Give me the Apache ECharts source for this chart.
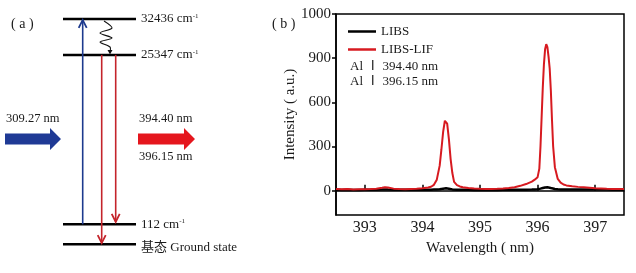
<!DOCTYPE html>
<html>
<head>
<meta charset="utf-8">
<script src="https://cdn.jsdelivr.net/npm/echarts@6.0.0/dist/echarts.min.js"></script>
<style>
    html, body { margin: 0; padding: 0; background: #fff; }
    #main { width: 636px; height: 273px; }
</style>
</head>
<body>
<div id="main"></div>
<script>
// ---------- (a) 能级示意图 (示意坐标：x 为横向位置，row 为能级示意高度) ----------
var levelNames = ['基态 Ground state', '112 cm', '25347 cm', '32436 cm'];
var levelSup = ['', '-1', '-1', '-1'];
var levelRows = [0, 1, 9.47, 11.27];
var levelSpan = [63, 136];

// 细箭头: [x, 起始能级, 终止能级, 颜色序号]
var thinArrows = [
    [82.7, 1, 11.22, 0],     // 309.27 nm 激发
    [101.7, 9.47, 0.06, 1],  // 394.40 nm 荧光
    [115.7, 9.47, 1.12, 1]   // 396.15 nm 荧光
];
// 无辐射弛豫波浪线
var waveX = [104, 112, 100, 112, 100, 110, 110];
var waveRow = [11.165, 10.815, 10.565, 10.315, 10.115, 9.865, 9.62];
// 粗箭头: [起点x, 终点x, row, 颜色序号]
var blockArrows = [
    [5, 61, 5.27, 0],
    [138, 195, 5.27, 1]
];
var blockTextAbove = ['309.27 nm', '394.40 nm'];
var blockTextBelow = ['', '396.15 nm'];

// ---------- (b) 光谱 ----------
var wavelength = [
    392.5, 392.6, 392.7, 392.8, 392.9, 393.0, 393.1, 393.2, 393.3, 393.35,
    393.4, 393.5, 393.6, 393.7, 393.8, 393.9, 394.0, 394.1, 394.15, 394.2,
    394.25, 394.3, 394.33, 394.36, 394.39, 394.41, 394.43, 394.46, 394.49, 394.52,
    394.55, 394.6, 394.65, 394.7, 394.8, 394.9, 395.0, 395.1, 395.2, 395.3,
    395.4, 395.5, 395.6, 395.7, 395.8, 395.9, 395.95, 396.0, 396.03, 396.05,
    396.07, 396.09, 396.11, 396.13, 396.15, 396.17, 396.19, 396.21, 396.23, 396.25,
    396.27, 396.3, 396.35, 396.4, 396.45, 396.5, 396.6, 396.7, 396.8, 396.9,
    397.0, 397.1, 397.2, 397.3, 397.4, 397.5
];
var libsLif = [
    12, 10, 11, 9, 10, 10, 11, 13, 20, 24,
    22, 14, 11, 10, 12, 14, 17, 22, 27, 40,
    75, 170, 280, 400, 475, 485, 455, 350, 215, 120,
    60, 38, 29, 23, 18, 15, 13, 12, 12, 13,
    15, 18, 24, 33, 45, 62, 75, 92, 150, 300,
    500, 700, 860, 960, 995, 975, 910, 830, 680, 480,
    300, 160, 80, 55, 42, 36, 30, 26, 23, 20,
    17, 15, 13, 12, 11, 12
];
var libs = [
    6, 5, 6, 5, 5, 6, 6, 7, 8, 9,
    8, 7, 6, 6, 6, 6, 7, 7, 7, 8,
    9, 10, 12, 14, 16, 16, 15, 13, 11, 9,
    8, 7, 7, 6, 6, 5, 5, 5, 5, 5,
    6, 6, 6, 7, 7, 8, 9, 10, 12, 14,
    16, 18, 20, 22, 23, 23, 22, 20, 18, 16,
    14, 12, 10, 9, 8, 8, 8, 8, 8, 8,
    8, 8, 8, 7, 7, 7
];
var xTickValues = [393, 394, 395, 396, 397];
var yTickValues = [0, 300, 600, 900, 1200];
var yTickLabels = ['0', '300', '600', '900', '1000'];
var lineNotes = ['Al Ⅰ 394.40 nm', 'Al Ⅰ 396.15 nm'];

var SERIF = '"Liberation Serif", "Times New Roman", "Noto Sans CJK SC", serif';
var thinColors = ['#1d3a8e', '#c4242b'];
var blockColors = ['#1f3a95', '#e5161d'];

function pair(xs, ys) {
    var out = [];
    for (var i = 0; i < xs.length; i++) {
        out.push([xs[i], ys[i]]);
    }
    return out;
}

function renderLevel(params, api) {
    var idx = params.dataIndex;
    var p1 = api.coord([api.value(0), api.value(1)]);
    var p2 = api.coord([api.value(2), api.value(1)]);
    var txt = levelSup[idx] ? '{n|' + levelNames[idx] + '}{s|' + levelSup[idx] + '}' : '{n|' + levelNames[idx] + '}';
    return {
        type: 'group',
        children: [{
            type: 'line',
            shape: {x1: p1[0], y1: p1[1], x2: p2[0], y2: p2[1]},
            style: {stroke: '#000', lineWidth: 2.5}
        }, {
            type: 'text',
            style: {
                text: txt,
                x: p2[0] + 5,
                y: p2[1] + (idx === 0 ? 3 : 0),
                verticalAlign: 'middle',
                fill: '#1a1a1a',
                rich: {
                    n: {fontSize: 13, fontFamily: SERIF, fill: '#1a1a1a'},
                    s: {fontSize: 7, fontFamily: SERIF, fill: '#1a1a1a', verticalAlign: 'top'}
                }
            }
        }]
    };
}

function renderThinArrow(params, api) {
    var x = api.value(0);
    var p1 = api.coord([x, api.value(1)]);
    var p2 = api.coord([x, api.value(2)]);
    var color = thinColors[api.value(3)];
    var dir = p2[1] > p1[1] ? 1 : -1;
    return {
        type: 'group',
        children: [{
            type: 'line',
            shape: {x1: p1[0], y1: p1[1], x2: p2[0], y2: p2[1]},
            style: {stroke: color, lineWidth: 1.6}
        }, {
            type: 'polyline',
            shape: {points: [[p2[0] - 4, p2[1] - dir * 8], [p2[0], p2[1]], [p2[0] + 4, p2[1] - dir * 8]]},
            style: {stroke: color, lineWidth: 1.8, fill: null}
        }]
    };
}

function renderWave(params, api) {
    var pts = [];
    for (var i = 0; i < waveX.length; i++) {
        pts.push(api.coord([waveX[i], waveRow[i]]));
    }
    var tip = api.coord([110, levelRows[2]]);
    return {
        type: 'group',
        children: [{
            type: 'polyline',
            shape: {points: pts, smooth: 0.3},
            style: {stroke: '#111', lineWidth: 1.1, fill: null}
        }, {
            type: 'polygon',
            shape: {points: [[tip[0] - 2.5, tip[1] - 5], [tip[0] + 2.5, tip[1] - 5], [tip[0], tip[1] - 0.5]]},
            style: {fill: '#111'}
        }]
    };
}

function renderBlock(params, api) {
    var idx = params.dataIndex;
    var p0 = api.coord([api.value(0), api.value(2)]);
    var p1 = api.coord([api.value(1), api.value(2)]);
    var y = p0[1], x0 = p0[0], x1 = p1[0];
    var bh = 5.5, hh = 11, hl = 11;
    var children = [{
        type: 'polygon',
        shape: {points: [
            [x0, y - bh], [x1 - hl, y - bh], [x1 - hl, y - hh], [x1, y],
            [x1 - hl, y + hh], [x1 - hl, y + bh], [x0, y + bh]
        ]},
        style: {fill: blockColors[api.value(3)]}
    }];
    if (blockTextAbove[idx]) {
        children.push({
            type: 'text',
            style: {text: blockTextAbove[idx], x: x0 + 1, y: y - 20, verticalAlign: 'middle',
                fontSize: 12.5, fontFamily: SERIF, fill: '#1a1a1a'}
        });
    }
    if (blockTextBelow[idx]) {
        children.push({
            type: 'text',
            style: {text: blockTextBelow[idx], x: x0 + 1, y: y + 18, verticalAlign: 'middle',
                fontSize: 12.5, fontFamily: SERIF, fill: '#1a1a1a'}
        });
    }
    return {type: 'group', children: children};
}

var myChart = echarts.init(document.getElementById('main'), null, {renderer: 'canvas'});
var option = {
    animation: false,
    backgroundColor: '#fff',
    title: [
        {text: '( a )', left: 11, top: 17, padding: 0, textStyle: {fontSize: 14, fontWeight: 'normal', fontFamily: SERIF, color: '#1a1a1a'}},
        {text: '( b )', left: 272, top: 17, padding: 0, textStyle: {fontSize: 14, fontWeight: 'normal', fontFamily: SERIF, color: '#1a1a1a'}}
    ],
    legend: {
        orient: 'vertical',
        left: 348,
        top: 24,
        padding: 0,
        icon: 'rect',
        itemWidth: 28,
        itemHeight: 2.5,
        itemGap: 3,
        textStyle: {fontSize: 13, fontFamily: SERIF, color: '#1a1a1a', lineHeight: 15},
        data: ['LIBS', 'LIBS-LIF']
    },
    graphic: [
        {type: 'text', left: 350, top: 60, style: {text: lineNotes[0], fontSize: 13, fontFamily: SERIF, fill: '#1a1a1a'}},
        {type: 'text', left: 350, top: 75, style: {text: lineNotes[1], fontSize: 13, fontFamily: SERIF, fill: '#1a1a1a'}}
    ],
    grid: [
        {left: 0, top: 0, width: 270, height: 273, show: false},
        {left: 336, right: 12, top: 14, bottom: 58, show: true, borderColor: '#000', borderWidth: 1.5}
    ],
    xAxis: [
        {gridIndex: 0, type: 'value', min: 0, max: 270, show: false},
        {
            gridIndex: 1, type: 'value', min: 392.5, max: 397.5,
            name: 'Wavelength ( nm)', nameLocation: 'middle', nameGap: 26,
            nameTextStyle: {fontSize: 15, fontFamily: SERIF, color: '#1a1a1a'},
            axisLine: {lineStyle: {color: '#000', width: 1.5}},
            axisTick: {inside: true, length: 6, customValues: xTickValues, lineStyle: {color: '#000', width: 1.5}},
            axisLabel: {customValues: xTickValues, margin: 5, fontSize: 16, fontFamily: SERIF, color: '#1a1a1a'},
            splitLine: {show: false}
        }
    ],
    yAxis: [
        {gridIndex: 0, type: 'value', min: -1.435, max: 12.215, show: false},
        {
            gridIndex: 1, type: 'value', min: -165, max: 1200,
            name: 'Intensity ( a.u.)', nameLocation: 'middle', nameGap: 38,
            nameTextStyle: {fontSize: 15, fontFamily: SERIF, color: '#1a1a1a'},
            axisLine: {lineStyle: {color: '#000', width: 1.5}},
            axisTick: {inside: false, length: 4, customValues: yTickValues, lineStyle: {color: '#000', width: 1.5}},
            axisLabel: {
                customValues: yTickValues, margin: 5, fontSize: 15, fontFamily: SERIF, color: '#1a1a1a',
                formatter: function(v) {
                    return yTickLabels[yTickValues.indexOf(v)];
                }
            },
            splitLine: {show: false}
        }
    ],
    series: [
        {
            type: 'custom', xAxisIndex: 0, yAxisIndex: 0, silent: true,
            renderItem: renderLevel,
            data: levelRows.map(function(r) { return [levelSpan[0], r, levelSpan[1]]; })
        },
        {
            type: 'custom', xAxisIndex: 0, yAxisIndex: 0, silent: true,
            renderItem: renderThinArrow,
            data: thinArrows
        },
        {
            type: 'custom', xAxisIndex: 0, yAxisIndex: 0, silent: true,
            renderItem: renderWave,
            data: [[waveX[0], waveRow[0]]]
        },
        {
            type: 'custom', xAxisIndex: 0, yAxisIndex: 0, silent: true,
            renderItem: renderBlock,
            data: blockArrows
        },
        {
            name: 'LIBS', type: 'line', xAxisIndex: 1, yAxisIndex: 1,
            symbol: 'none', data: pair(wavelength, libs),
            lineStyle: {color: '#000', width: 2.5}, itemStyle: {color: '#000'}
        },
        {
            name: 'LIBS-LIF', type: 'line', xAxisIndex: 1, yAxisIndex: 1,
            symbol: 'none', data: pair(wavelength, libsLif),
            lineStyle: {color: '#d71a20', width: 2}, itemStyle: {color: '#d71a20'}
        }
    ]
};
myChart.setOption(option);
</script>
</body>
</html>
